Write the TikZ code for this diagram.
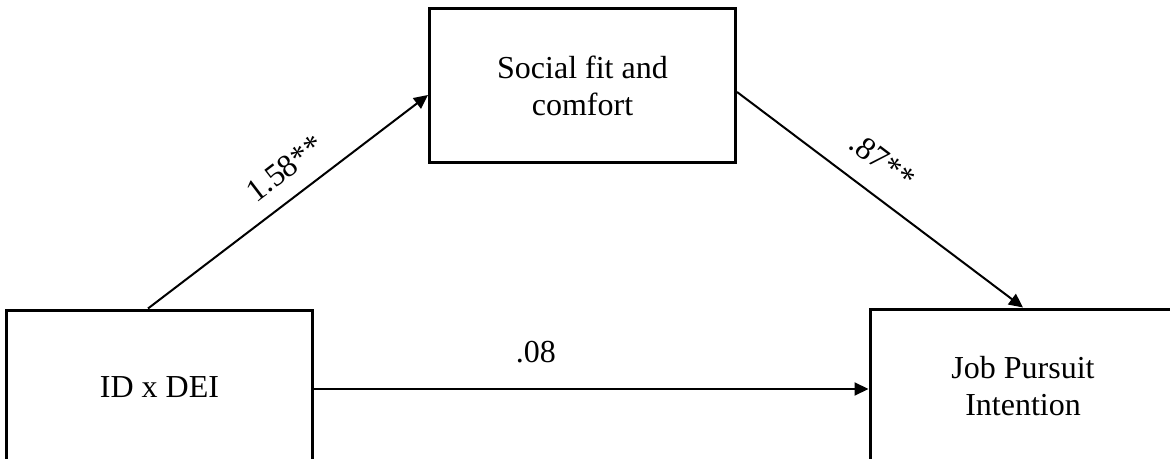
\documentclass[tikz,border=0pt]{standalone}
\usepackage{fontspec}
\setmainfont{Liberation Serif}
\usetikzlibrary{arrows.meta}

\begin{document}
\begin{tikzpicture}[x=0.5pt,y=-0.5pt,->,>={Triangle[length=7pt,width=6.5pt]},
  line width=1pt,font=\fontsize{16}{18.5}\selectfont,
  var node/.style={rectangle,draw,line width=1.5pt,minimum width=153pt,
    minimum height=77pt,align=center}]

  \clip (0,0) rectangle (1170,459);

  \node[var node] (id) at (159.5,387) {ID x DEI};
  \node[var node] (sfc) at (582.5,86) {Social fit and\\comfort};
  \node[var node] (jpi) at (1023,386) {Job Pursuit\\Intention};

  \path[every node/.style={sloped}]
    ([xshift=-5.75pt]id.north) edge node [pos=0.55,above=5pt] {1.58**} ([yshift=-4.5pt]sfc.west)
    ([yshift=-3pt]sfc.east) edge node [pos=0.44,above=7pt] {.87**} (jpi.north)
    ([yshift=-1pt]id.east) edge node [pos=0.4,above=9pt] {.08} ([yshift=-1pt]id.east -| jpi.west);

\end{tikzpicture}
\end{document}
